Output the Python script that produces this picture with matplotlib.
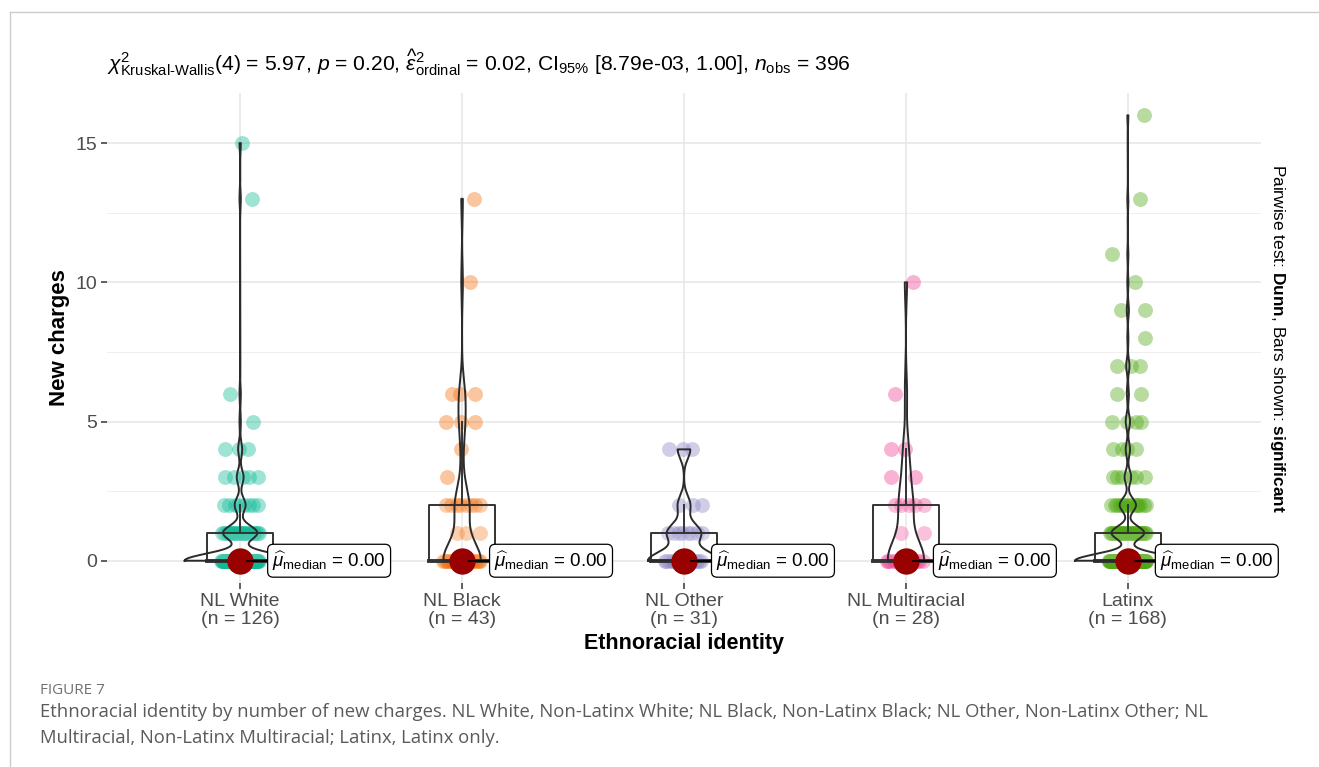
# Ethnoracial identity vs new charges: violin + box + jittered points
import matplotlib
matplotlib.use("Agg")
import matplotlib.pyplot as plt
from matplotlib.lines import Line2D
import numpy as np

plt.rcParams['font.family'] = ['Liberation Sans', 'DejaVu Sans']
plt.rcParams['mathtext.fontset'] = 'custom'
plt.rcParams['mathtext.rm'] = 'Liberation Sans'
plt.rcParams['mathtext.it'] = 'Liberation Sans:italic'
plt.rcParams['mathtext.bf'] = 'Liberation Sans:bold'
plt.rcParams['mathtext.sf'] = 'Liberation Sans'

# Данные (значения и число наблюдений по каждой группе)
groups = ["NL White", "NL Black", "NL Other", "NL Multiracial", "Latinx"]
group_n = [126, 43, 31, 28, 168]
white_values = [0, 1, 2, 3, 4, 5, 6, 13, 15]
white_counts = [81, 25, 8, 5, 3, 1, 1, 1, 1]
black_values = [0, 1, 2, 3, 4, 5, 6, 10, 13]
black_counts = [22, 3, 8, 1, 1, 3, 3, 1, 1]
other_values = [0, 1, 2, 4]
other_counts = [17, 8, 3, 3]
multi_values = [0, 1, 2, 3, 4, 6, 10]
multi_counts = [15, 2, 5, 2, 2, 1, 1]
latinx_values = [0, 1, 2, 3, 4, 5, 6, 7, 8, 9, 10, 11, 13, 16]
latinx_counts = [97, 30, 15, 6, 4, 4, 2, 3, 1, 2, 1, 1, 1, 1]
median_labels = ["0.00", "0.00", "0.00", "0.00", "0.00"]

colors = ["#0FBA97", "#F5700C", "#8A85C4", "#EE3F95", "#4FA812"]

group_data = [
    np.repeat(white_values, white_counts),
    np.repeat(black_values, black_counts),
    np.repeat(other_values, other_counts),
    np.repeat(multi_values, multi_counts),
    np.repeat(latinx_values, latinx_counts),
]


def bw_nrd0(x):
    hi = np.std(x, ddof=1)
    q75, q25 = np.percentile(x, [75, 25])
    lo = min(hi, (q75 - q25) / 1.34)
    if lo == 0:
        lo = hi
    return 0.9 * lo * len(x) ** -0.2


def kde(x):
    bw = bw_nrd0(x)
    grid = np.linspace(x.min(), x.max(), 512)
    d = np.exp(-0.5 * ((grid[:, None] - x[None, :]) / bw) ** 2).sum(axis=1)
    d = d / (len(x) * bw * np.sqrt(2 * np.pi))
    return grid, d


# Окно
fig = plt.figure(figsize=(13.19, 7.67), dpi=100)
W, H = 1319, 767
ax = fig.add_axes([107 / W, 1 - 583 / H, 1154 / W, 490 / H])
ax.set_xlim(0.4, 5.6)
ax.set_ylim(-0.8, 16.8)
for s in ax.spines.values():
    s.set_visible(False)

# сетка
for yv in [0, 5, 10, 15]:
    ax.axhline(yv, color='#E6E6E6', lw=1.1, zorder=0)
for yv in [2.5, 7.5, 12.5]:
    ax.axhline(yv, color='#EFEFEF', lw=0.7, zorder=0)
for i in range(len(groups)):
    ax.axvline(i + 1, color='#E6E6E6', lw=1.1, zorder=0)

dens = [kde(x) for x in group_data]
dmax = max(d.max() for _, d in dens)

for i, x in enumerate(group_data):
    c = i + 1
    # точки
    vals, cnts = np.unique(x, return_counts=True)
    for v, k in zip(vals, cnts):
        offs = ((np.arange(k) * 0.618034 + v * 0.37) % 1 - 0.5) * 0.17
        ax.scatter(c + offs, np.full(k, v), s=115, color=colors[i],
                   alpha=0.4, linewidths=0, zorder=2)
    # ящик
    q1, med, q3 = np.percentile(x, [25, 50, 75])
    iqr = q3 - q1
    up = x[x <= q3 + 1.5 * iqr].max()
    lo = x[x >= q1 - 1.5 * iqr].min()
    ax.fill([c - 0.15, c + 0.15, c + 0.15, c - 0.15], [q1, q1, q3, q3],
            facecolor='white', alpha=0.2, zorder=3)
    ax.plot([c - 0.15, c + 0.15, c + 0.15, c - 0.15, c - 0.15],
            [q1, q1, q3, q3, q1], color='#333333', lw=1.4, zorder=3)
    ax.plot([c - 0.15, c + 0.15], [med, med], color='#333333', lw=2.8, zorder=3)
    ax.plot([c, c], [q3, up], color='#333333', lw=1.4, zorder=3)
    ax.plot([c, c], [lo, q1], color='#333333', lw=1.4, zorder=3)
    # скрипка
    g, d = dens[i]
    hw = 0.25 * d / dmax
    vx = np.concatenate([c - hw, (c + hw)[::-1], [c - hw[0]]])
    vy = np.concatenate([g, g[::-1], [g[0]]])
    ax.plot(vx, vy, color='#2B2B2B', lw=1.4, zorder=4)
    # медиана
    ax.plot([c + 0.03, c + 0.13], [med, med], color='black', lw=1.2, zorder=6)
    ax.scatter([c], [med], s=360, color='#990000', linewidths=0, zorder=5)
    ax.text(c + 0.145, med, r"$\widehat{\mu}_{\mathrm{median}}$ = " + median_labels[i],
            ha='left', va='center', fontsize=13.5, zorder=7,
            bbox=dict(boxstyle='round,pad=0.25,rounding_size=0.3', fc='white',
                      ec='black', lw=0.9))

ax.set_yticks([0, 5, 10, 15])
ax.set_xticks(range(1, len(groups) + 1))
ax.set_xticklabels([f"{g}\n(n = {n})" for g, n in zip(groups, group_n)],
                   linespacing=1.1)
ax.tick_params(length=4, width=1.1, color='#333333', labelcolor='#4D4D4D',
               labelsize=14, pad=3)

# подписи
title = (r"$\chi^2_{\text{Kruskal-Wallis}}(4)$ = 5.97, $\mathit{p}$ = 0.20, "
         r"$\widehat{\varepsilon}^2_{\mathrm{ordinal}}$ = 0.02, "
         r"$\mathrm{CI}_{95\%}$ [8.79e-03, 1.00], $\mathit{n}_{\mathrm{obs}}$ = 396")
fig.text(107 / W, 1 - 63 / H, title, ha='left', va='center', fontsize=15.2)
fig.text(60 / W, 1 - 338 / H, "New charges", rotation=90, ha='center',
         va='center', fontsize=16, fontweight='bold')
fig.text(684 / W, 1 - 643 / H, "Ethnoracial identity", ha='center',
         va='center', fontsize=15.5, fontweight='bold')
fig.text(1278 / W, 1 - 338 / H,
         r"Pairwise test: $\mathbf{Dunn}$, Bars shown: $\mathbf{significant}$",
         rotation=270, ha='center', va='center', fontsize=12.4)

# подпись к рисунку
fig.text(40 / W, 1 - 690 / H, "FIGURE 7", ha='left', va='center',
         fontsize=11, color='#707070', family='Open Sans')
fig.text(40 / W, 1 - 712 / H,
         "Ethnoracial identity by number of new charges. NL White, Non-Latinx White; "
         "NL Black, Non-Latinx Black; NL Other, Non-Latinx Other; NL",
         ha='left', va='center', fontsize=13.3, color='#5A5A5A', family='Open Sans')
fig.text(40 / W, 1 - 738 / H,
         "Multiracial, Non-Latinx Multiracial; Latinx, Latinx only.",
         ha='left', va='center', fontsize=13.3, color='#5A5A5A', family='Open Sans')

# рамка
fig.add_artist(Line2D([10 / W, 10 / W], [0, 1 - 12 / H], color='#CCCCCC', lw=1))
fig.add_artist(Line2D([10 / W, 1], [1 - 12 / H, 1 - 12 / H], color='#CCCCCC', lw=1))

fig.savefig("out.png", dpi=100)
